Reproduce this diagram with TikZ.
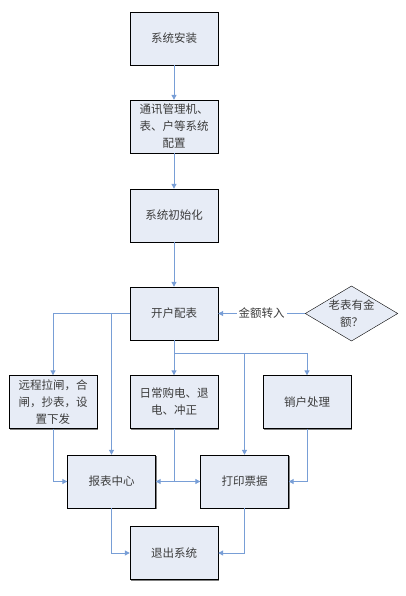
\documentclass[tikz,border=0pt]{standalone}
\usepackage{fontspec}
\usepackage{xcolor}
\usepackage{tikz}
\usetikzlibrary{shapes.geometric, arrows.meta, shadows}
\setmainfont{Noto Sans CJK SC}
\definecolor{boxfill}{RGB}{231,236,246}
\definecolor{lineblue}{RGB}{120,158,214}
\definecolor{textgray}{RGB}{60,60,60}
\tikzstyle{process} = [rectangle, minimum width=88pt, minimum height=53pt, text width=76pt, align=center, inner sep=0pt, draw=black, fill=boxfill, text=textgray, drop shadow={shadow xshift=1.2pt, shadow yshift=-1.2pt, opacity=0.5, fill=black}]
\tikzstyle{decision} = [diamond, aspect=1.68, text width=46pt, align=center, inner sep=0pt, draw=black, fill=boxfill, text=textgray]
\tikzstyle{arrow} = [line width=1pt, draw=lineblue, -{Triangle[length=5pt,width=5pt]}]
\tikzstyle{line} = [line width=1pt, draw=lineblue]

\begin{document}
\begin{tikzpicture}[x=1pt, y=-1pt, font=\fontsize{11.5pt}{17pt}\selectfont]
        \useasboundingbox (0,0) rectangle (405,596);
        \node (az) [process] at (174,38.5) {系统安装};
        \node (pz) [process, below of=az, node distance=88pt] {通讯管理机、\\表、户等系统\\配置};
        \node (csh) [process, below of=pz, node distance=89pt] {系统初始化};
        \node (kh) [process, below of=csh, node distance=98pt] {开户配表};
        \node (lb) [decision, right of=kh, node distance=177.5pt] {老表有金\\额？};
        \node (rc) [process, below of=kh, node distance=88.5pt] {日常购电、退\\电、冲正};
        \node (yc) [process, left of=rc, node distance=121pt] {远程拉闸，合\\闸，抄表，设\\置下发};
        \node (xh) [process, right of=rc, node distance=133pt] {销户处理};
        \node (bb) [process] at (111.5,481.5) {报表中心};
        \node (dy) [process] at (244.5,481.5) {打印票据};
        \node (tc) [process, below of=rc, node distance=151pt] {退出系统};
        \coordinate (fen) at ([yshift=-13pt]kh.south);
        \draw [arrow] (az) -- (pz);
        \draw [arrow] (pz) -- (csh);
        \draw [arrow] (csh) -- (kh);
        \draw [arrow] (lb) -- node [fill=white, text=textgray, inner sep=2pt] {金额转入} (kh);
        \draw [arrow] (kh.west) -| (yc.north);
        \draw [arrow] (kh.west) -| (bb.north);
        \draw [arrow] (kh) -- (rc);
        \draw [arrow] (fen) -| (xh.north);
        \draw [arrow] (fen) -| (dy.north);
        \draw [arrow] (yc.south) |- (bb.west);
        \draw [arrow] (rc.south) |- (bb.east);
        \draw [arrow] (rc.south) |- (dy.west);
        \draw [arrow] (xh.south) |- (dy.east);
        \draw [arrow] (bb.south) |- (tc.west);
        \draw [arrow] (dy.south) |- (tc.east);
    \end{tikzpicture}
\end{document}
